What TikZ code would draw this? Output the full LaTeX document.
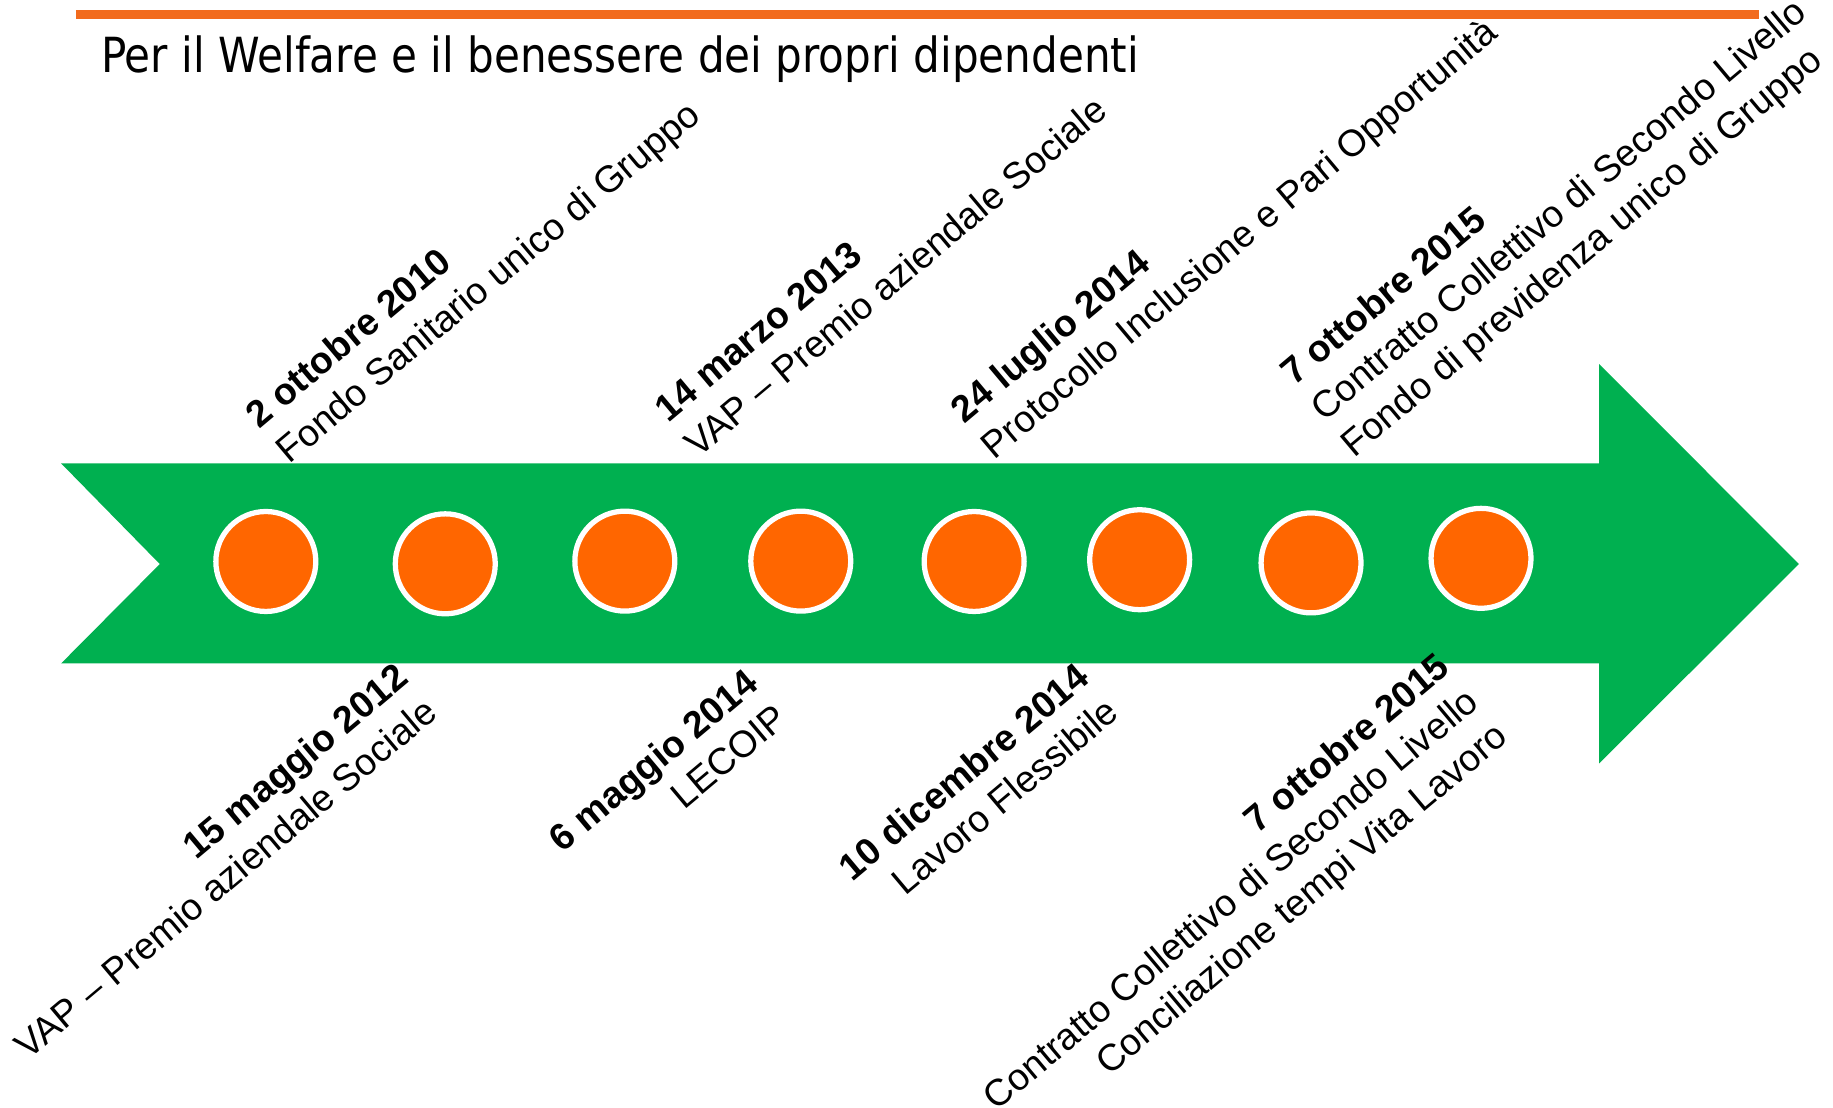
\documentclass[tikz,border=0pt]{standalone}
\usepackage{fontspec}
\setmainfont{Liberation Sans}
\newfontfamily\titlefont[FakeStretch=0.87]{DejaVu Sans}
\usetikzlibrary{calc}
\definecolor{barorange}{HTML}{F26B1D}
\definecolor{dotorange}{HTML}{FF6600}
\definecolor{arrowgreen}{HTML}{00B050}
\begin{document}
\begin{tikzpicture}[x=0.5pt,y=-0.5pt,
  lbl/.style={inner sep=0pt, outer sep=0pt, rotate=40, font=\fontsize{16}{19}\selectfont},
  datelbl/.style={lbl, font=\fontsize{16}{19}\selectfont\bfseries},
  toplbl/.style={anchor=base west},
  botlbl/.style={anchor=base east},
  dot/.style={circle, fill=dotorange, draw=white, line width=2.25pt, minimum size=42.75pt, inner sep=0pt}]
\useasboundingbox (0,0) rectangle (1568,947.8);
% line offsets between rotated text lines (top and bottom labels)
\def\lx{25.7}\def\ly{30.6}
\def\mx{24.8}\def\my{29.6}
% top orange rule
\draw[barorange, line width=3.95pt] (65,12.55) -- (1504.8,12.55);
% title
\node[anchor=base west, inner sep=0pt, font=\titlefont\fontsize{20.7}{24}\selectfont] (title) at (86,62.2) {Per il Welfare e il benessere dei propri dipendenti};
% green arrow
\fill[arrowgreen] (52.3,396.4) -- (1368,396.4) -- (1368,311.4) -- (1538.8,482.5) -- (1368,653) -- (1368,567.5) -- (52.3,567.5) -- (136.7,482.5) -- cycle;
% dots
\node[dot] (d1) at (227.4,480.3) {};
\node[dot] (d2) at (380.9,482.3) {};
\node[dot] (d3) at (534.5,480) {};
\node[dot] (d4) at (685,480) {};
\node[dot] (d5) at (833.3,480.3) {};
\node[dot] (d6) at (974.9,478.8) {};
\node[dot] (d7) at (1121.5,481.5) {};
\node[dot] (d8) at (1266.9,477.6) {};
% top labels
\coordinate (p1) at (222,367);
\coordinate (p2) at (572,362);
\coordinate (p3) at (825,363);
\coordinate (p4) at (1107,331);
\node[datelbl, toplbl] (t1a) at (p1) {2 ottobre 2010};
\node[lbl, toplbl] (t1b) at ($(p1)+(\lx,\ly)$) {Fondo Sanitario unico di Gruppo};
\node[datelbl, toplbl] (t2a) at (p2) {14 marzo 2013};
\node[lbl, toplbl] (t2b) at ($(p2)+(\lx,\ly)$) {VAP – Premio aziendale Sociale};
\node[datelbl, toplbl] (t3a) at (p3) {24 luglio 2014};
\node[lbl, toplbl] (t3b) at ($(p3)+(\lx,\ly)$) {Protocollo Inclusione e Pari Opportunità};
\node[datelbl, toplbl] (t4a) at (p4) {7 ottobre 2015};
\node[lbl, toplbl] (t4b) at ($(p4)+(\lx,\ly)$) {Contratto Collettivo di Secondo Livello};
\node[lbl, toplbl] (t4c) at ($(p4)+2*(\lx,\ly)$) {Fondo di previdenza unico di Gruppo};
% bottom labels
\coordinate (q1) at (351,583);
\coordinate (q2) at (650.5,588);
\coordinate (q3) at (934,583);
\coordinate (q4) at (1242,574);
\node[datelbl, botlbl] (b1a) at (q1) {15 maggio 2012};
\node[lbl, botlbl] (b1b) at ($(q1)+(\mx,\my)$) {VAP – Premio aziendale Sociale};
\node[datelbl, botlbl] (b2a) at (q2) {6 maggio 2014};
\node[lbl, botlbl] (b2b) at ($(q2)+(\mx,\my)$) {LECOIP};
\node[datelbl, botlbl] (b3a) at (q3) {10 dicembre 2014};
\node[lbl, botlbl] (b3b) at ($(q3)+(\mx,\my)$) {Lavoro Flessibile};
\node[datelbl, botlbl] (b4a) at (q4) {7 ottobre 2015};
\node[lbl, botlbl] (b4b) at ($(q4)+(\mx,\my)$) {Contratto Collettivo di Secondo Livello};
\node[lbl, botlbl] (b4c) at ($(q4)+2*(\mx,\my)$) {Conciliazione tempi Vita Lavoro};
\end{tikzpicture}
\end{document}
